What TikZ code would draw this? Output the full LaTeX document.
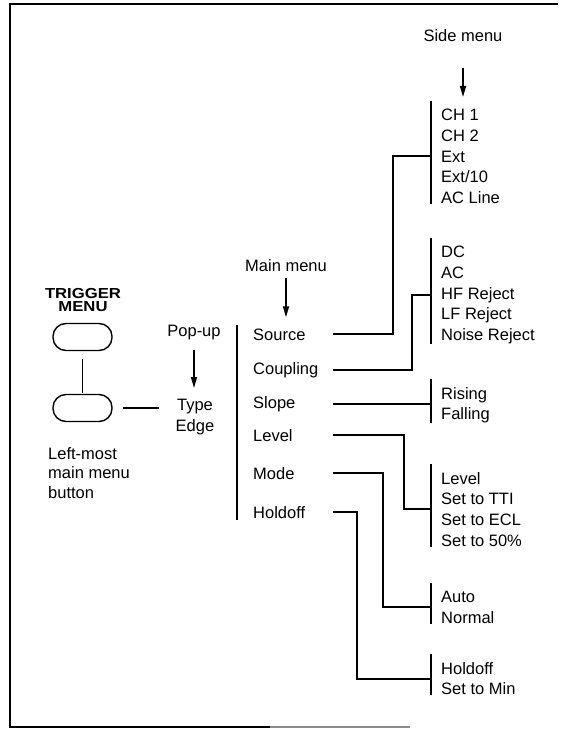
\documentclass[tikz,border=0pt]{standalone}
\usepackage{fontspec}
\setmainfont{Liberation Sans}
\usetikzlibrary{arrows.meta}
\newcommand\txtfont{\fontsize{16.5}{20.7}\selectfont}
\newcommand\lblfont{\fontsize{16.5}{19.5}\selectfont}
\newcommand\trgfont{\fontsize{14.5}{13}\selectfont\bfseries}
\begin{document}
\begin{tikzpicture}[x=1pt,y=-1pt,
  txt/.style={font=\txtfont, inner sep=0pt},
  item/.style={txt, anchor=base west},
  sidemenu/.style={txt, align=left, anchor=north west},
  conn/.style={line width=2pt},
  bar/.style={line width=2pt},
  frameline/.style={line width=1.5pt},
  arr/.style={line width=1.6pt, -{Triangle[length=11pt,width=6pt]}},
  btn/.style={draw, line width=1.4pt, rounded corners=13pt, minimum width=59pt, minimum height=27pt, inner sep=0pt}
]
\useasboundingbox (0,0) rectangle (560,730);
% frame
\draw[frameline] (558,4) -- (10,4) -- (10,727) -- (270,727);
\draw[frameline, black!45] (270,727) -- (410,727);

% left part
\node[txt, font=\trgfont, align=center] (trg) at (83,300.5) {\scalebox{1.15}[1]{TRIGGER}\\\scalebox{1.15}[1]{MENU}};
\node[btn] (b1) at (82.5,337) {};
\node[btn] (b2) at (82.5,408) {};
\node[txt, font=\lblfont, align=left, anchor=north west] (lm) at (48,447) {Left-most\\main menu\\button};
\node[txt, anchor=base] (popup) at (194,336) {Pop-up};
\node[sidemenu, align=center, anchor=north] (te) at (195,399) {Type\\Edge};

% labels
\node[txt, anchor=base] (mmlbl) at (286,271) {Main menu};
\node[txt, anchor=base] (sidelbl) at (463,42) {Side menu};

% main menu items
\node[item] (src) at (253,340) {Source};
\node[item] (cpl) at (253,374) {Coupling};
\node[item] (slp) at (253,408) {Slope};
\node[item] (lvl) at (253,441) {Level};
\node[item] (mod) at (253,479) {Mode};
\node[item] (hld) at (253,518) {Holdoff};
\draw[bar] (237,325) -- (237,520);

% side menus
\node[sidemenu] (ssrc) at (441,109) {CH 1\\CH 2\\Ext\\Ext/10\\AC Line};
\node[sidemenu] (scpl) at (441,246) {DC\\AC\\HF Reject\\LF Reject\\Noise Reject};
\node[sidemenu] (sslp) at (441,387) {Rising\\Falling};
\node[sidemenu] (slvl) at (441,472) {Level\\Set to TTI\\Set to ECL\\Set to 50\%};
\node[sidemenu] (smod) at (441,591) {Auto\\Normal};
\node[sidemenu] (shld) at (441,662) {Holdoff\\Set to Min};
\foreach \n in {ssrc,scpl,sslp,slvl,smod,shld}
  \draw[bar] ([shift={(-10pt,8pt)}]\n.north west) -- ([xshift=-10pt]\n.south west);

% junction columns
\coordinate (L) at (333,0);
\coordinate (j1) at (393,0);
\coordinate (j2) at (412,0);
\coordinate (j4) at (404,0);
\coordinate (j5) at (383,0);
\coordinate (j6) at (357,0);

% connectors
\draw[conn] (src.west -| L) -| (j1 |- ssrc.west) -- ([xshift=-10pt]ssrc.west);
\draw[conn] (cpl.west -| L) -| (j2 |- scpl.west) -- ([xshift=-10pt]scpl.west);
\draw[conn] (slp.west -| L) -- ([xshift=-10pt]slp.west -| sslp.west);
\draw[conn] (lvl.west -| L) -| (j4 |- slvl.west) -- ([xshift=-10pt]slvl.west);
\draw[conn] (mod.west -| L) -| (j5 |- smod.west) -- ([xshift=-10pt]smod.west);
\draw[conn] (hld.west -| L) -| (j6 |- shld.west) -- ([xshift=-10pt]shld.west);

\draw[conn, line width=1.7pt, shorten <=8pt, shorten >=1pt] (b1) -- (b2);
\draw[conn, line width=1.7pt, shorten <=10pt, shorten >=17pt] (b2.east) -- (b2.east -| te.west);

% arrows
\draw[arr, shorten <=10pt, shorten >=11pt] (popup.south) -- (popup.south |- te.north);
\draw[arr, shorten <=7pt, shorten >=11pt] (mmlbl.south) -- (mmlbl.south |- src.north);
\draw[arr, shorten <=26pt, shorten >=12pt] (sidelbl.south) -- (sidelbl.south |- ssrc.north);
\end{tikzpicture}
\end{document}
